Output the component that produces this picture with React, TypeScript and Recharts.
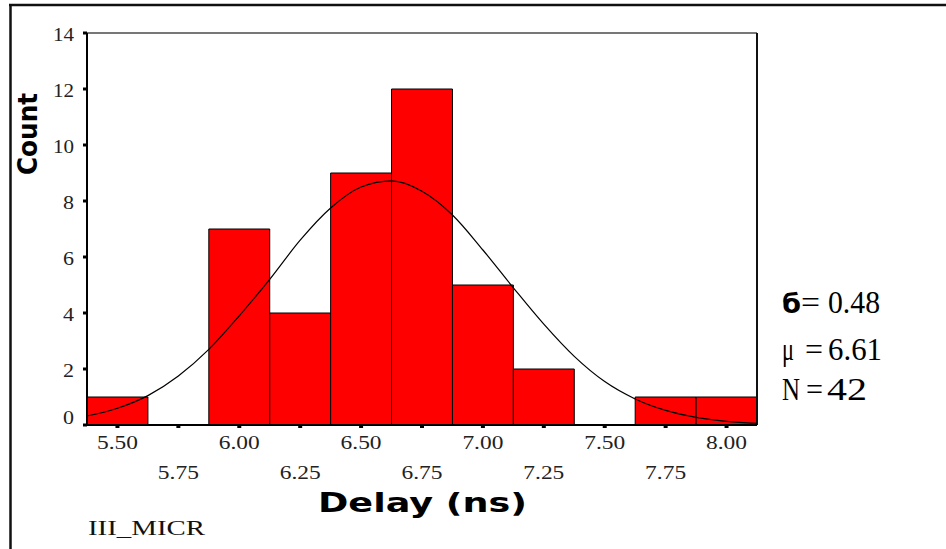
import React from 'react';
import { ComposedChart, XAxis, YAxis, Line, ReferenceArea, ReferenceLine } from 'recharts';

// Histogram bins (centre of each bin, width 0.25 ns)
const binCenters = [5.5, 5.75, 6.0, 6.25, 6.5, 6.75, 7.0, 7.25, 7.5, 7.75, 8.0];
const binCounts = [1, 0, 7, 4, 9, 12, 5, 2, 0, 1, 1];
const binWidth = 0.25;

// Fitted normal curve
const curveX = [5.375, 5.5, 5.625, 5.75, 5.875, 6.0, 6.125, 6.25, 6.375, 6.5, 6.625, 6.75, 6.875, 7.0, 7.125, 7.25, 7.375, 7.5, 7.625, 7.75, 7.875, 8.0, 8.125];
const curveY = [0.32, 0.6, 1.05, 1.75, 2.7, 3.9, 5.2, 6.6, 7.75, 8.5, 8.72, 8.35, 7.5, 6.25, 4.9, 3.6, 2.45, 1.55, 0.93, 0.52, 0.27, 0.13, 0.06];

const xTicks = [5.5, 5.75, 6.0, 6.25, 6.5, 6.75, 7.0, 7.25, 7.5, 7.75, 8.0];
const yTicks = [0, 2, 4, 6, 8, 10, 12, 14];
const xDomain = [5.375, 8.125];
const yDomain = [0, 14];

const statSymbols = ['б', 'μ', 'N'];
const statValues = ['0.48', '6.61', '42'];
const xTitle = 'Delay (ns)';
const yTitle = 'Count';
const varName = 'III_MICR';

const curveData = curveX.map((x, i) => ({ x, fit: curveY[i] }));

const tickFont = '"Liberation Serif", serif';

const XTick = (props: any) => {
  const { x, y, payload, index } = props;
  const row = index % 2;
  return (
    <text
      x={x}
      y={y + (row ? 51 : 21)}
      textAnchor="middle"
      fontFamily={tickFont}
      fontSize={18}
      fill="#222"
      textLength={41}
      lengthAdjust="spacingAndGlyphs"
    >
      {Number(payload.value).toFixed(2)}
    </text>
  );
};

const YTick = (props: any) => {
  const { x, y, payload } = props;
  const label = String(payload.value);
  return (
    <text
      x={x}
      y={y + (payload.value === 0 ? -1 : 8)}
      textAnchor="end"
      fontFamily={tickFont}
      fontSize={18}
      fill="#222"
      textLength={label.length === 1 ? 11 : 21}
      lengthAdjust="spacingAndGlyphs"
    >
      {label}
    </text>
  );
};

const statStyle = { fontFamily: tickFont, fontSize: 31, fill: '#000' } as const;

export default function App() {
  return (
    <div style={{ position: 'absolute', left: 0, top: 0, width: 946, height: 549, background: '#fff' }}>
      <ComposedChart
        width={946}
        height={549}
        data={curveData}
        margin={{ top: 33, right: 189, bottom: 64, left: 27 }}
      >
        <XAxis
          dataKey="x"
          type="number"
          domain={xDomain}
          ticks={xTicks}
          interval={0}
          allowDataOverflow
          height={60}
          tickSize={3}
          tickMargin={0}
          axisLine={{ stroke: '#000', strokeWidth: 2 }}
          tickLine={{ stroke: '#000', strokeWidth: 4 }}
          tick={<XTick />}
        />
        <YAxis
          type="number"
          domain={yDomain}
          ticks={yTicks}
          interval={0}
          width={60}
          tickSize={4}
          tickMargin={9}
          axisLine={{ stroke: '#000', strokeWidth: 2 }}
          tickLine={{ stroke: '#000', strokeWidth: 3 }}
          tick={<YTick />}
        />
        {binCenters.map((c, i) =>
          binCounts[i] > 0 ? (
            <ReferenceArea
              key={'bin' + i}
              x1={c - binWidth / 2}
              x2={c + binWidth / 2}
              y1={0}
              y2={binCounts[i]}
              fill="#ff0000"
              fillOpacity={1}
              stroke="#000"
              strokeWidth={1}
              strokeOpacity={1}
              ifOverflow="visible"
            />
          ) : null
        )}
        <ReferenceLine y={yDomain[1]} stroke="#777" strokeWidth={2} />
        <ReferenceLine x={xDomain[1]} stroke="#111" strokeWidth={2} />
        <Line
          dataKey="fit"
          type="monotone"
          stroke="#000"
          strokeWidth={1.2}
          dot={false}
          activeDot={false}
          isAnimationActive={false}
        />
      </ComposedChart>
      <svg
        width={946}
        height={549}
        style={{ position: 'absolute', left: 0, top: 0, pointerEvents: 'none' }}
      >
        <line x1={9} y1={5} x2={946} y2={5} stroke="#111" strokeWidth={2.5} />
        <line x1={10.5} y1={4} x2={10.5} y2={549} stroke="#111" strokeWidth={2.5} />
        <text
          transform="translate(37,134) rotate(-90)"
          textAnchor="middle"
          fontFamily='"DejaVu Sans", sans-serif'
          fontWeight="bold"
          fontSize={26}
          fill="#000"
          textLength={82}
          lengthAdjust="spacingAndGlyphs"
        >
          {yTitle}
        </text>
        <text
          x={318}
          y={512}
          fontFamily='"DejaVu Sans", sans-serif'
          fontWeight="bold"
          fontSize={27}
          fill="#000"
          textLength={209}
          lengthAdjust="spacingAndGlyphs"
        >
          {xTitle}
        </text>
        <text
          x={88}
          y={535}
          fontFamily={tickFont}
          fontSize={22}
          fill="#111"
          textLength={117}
          lengthAdjust="spacingAndGlyphs"
        >
          {varName}
        </text>
        {/* stats block */}
        <text x={782} y={313} fontFamily='"DejaVu Sans", sans-serif' fontWeight="bold" fontSize={27} fill="#000" textLength={19} lengthAdjust="spacingAndGlyphs">
          {statSymbols[0]}
        </text>
        <text x={801} y={313} {...statStyle} textLength={19} lengthAdjust="spacingAndGlyphs">=</text>
        <text x={828} y={313} {...statStyle} textLength={52} lengthAdjust="spacingAndGlyphs">
          {statValues[0]}
        </text>
        <text x={782} y={360} {...statStyle} textLength={12} lengthAdjust="spacingAndGlyphs">
          {statSymbols[1]}
        </text>
        <text x={805} y={360} {...statStyle} textLength={18} lengthAdjust="spacingAndGlyphs">=</text>
        <text x={828} y={360} {...statStyle} textLength={54} lengthAdjust="spacingAndGlyphs">
          {statValues[1]}
        </text>
        <text x={782} y={400} {...statStyle} textLength={18} lengthAdjust="spacingAndGlyphs">
          {statSymbols[2]}
        </text>
        <text x={806} y={400} {...statStyle} textLength={17} lengthAdjust="spacingAndGlyphs">=</text>
        <text x={827} y={400} {...statStyle} textLength={40} lengthAdjust="spacingAndGlyphs">
          {statValues[2]}
        </text>
      </svg>
    </div>
  );
}
